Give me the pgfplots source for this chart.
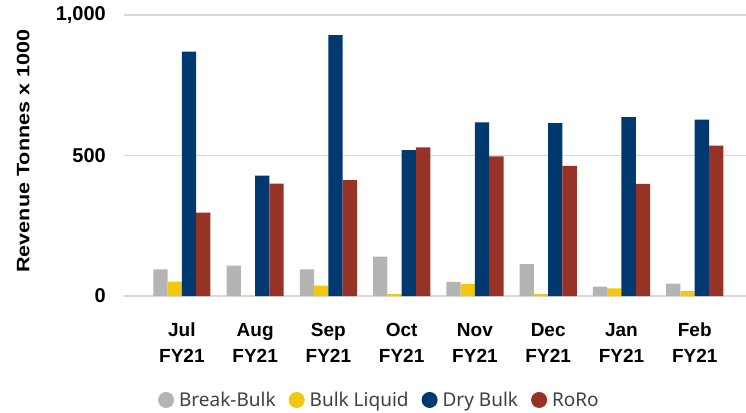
\documentclass[border=0pt]{standalone}
\usepackage{fontspec}
\setmainfont{Liberation Sans}
\newfontfamily\legfont{Noto Sans}
\usepackage{pgfplots}
\pgfplotsset{compat=1.18}
\definecolor{cGray}{RGB}{180,180,180}
\definecolor{cYellow}{RGB}{242,200,15}
\definecolor{cBlue}{RGB}{0,56,112}
\definecolor{cRed}{RGB}{150,50,38}
\definecolor{cGrid}{RGB}{217,217,217}
\definecolor{cLeg}{RGB}{64,64,64}
\begin{document}
\begin{tikzpicture}[x=1pt,y=1pt]
\useasboundingbox (0,0) rectangle (746,412);
\begin{axis}[
  at={(124pt,116pt)}, anchor=south west,
  scale only axis, width=622pt, height=281pt,
  ybar=0pt, bar width=14.3pt,
  xmin=-0.79, xmax=7.70, ymin=0, ymax=1000,
  axis line style={draw=none},
  major tick length=0pt,
  ymajorgrids, grid style={draw=cGrid, line width=1.3pt},
  xtick={0,...,7},
  xticklabels={{Jul\\FY21},{Aug\\FY21},{Sep\\FY21},{Oct\\FY21},{Nov\\FY21},{Dec\\FY21},{Jan\\FY21},{Feb\\FY21}},
  xticklabel style={align=center, font=\bfseries\fontsize{19}{26}\selectfont, inner sep=0pt, anchor=north, yshift=-27pt},
  ytick={0,500,1000},
  yticklabel style={font=\bfseries\fontsize{20}{22}\selectfont, inner sep=0pt, anchor=east, xshift=-18pt},
  /pgf/number format/.cd, assume math mode=true, 1000 sep={,},
  /pgfplots/.cd,
  ylabel={\scalebox{1.2}[1]{Revenue Tonnes x 1000}},
  ylabel style={at={(rel axis cs:-0.162,0.516)}, anchor=center, font=\bfseries\fontsize{18}{20}\selectfont},
  legend columns=4,
  legend image code/.code={\fill[#1] (8pt,0pt) circle (8pt);},
  legend style={draw=none, fill=none, at={(0.409,-0.370)}, anchor=center,
    font=\legfont\fontsize{19}{21}\selectfont, text=cLeg,
    nodes={inner xsep=0pt},
    /tikz/every odd column/.append style={column sep=5pt},
    /tikz/every even column/.append style={column sep=13pt}},
]
\addplot[fill=cGray, draw=none] coordinates {(0,95) (1,108) (2,95) (3,140) (4,50) (5,113) (6,33) (7,44)};
\addplot[fill=cYellow, draw=none] coordinates {(0,51) (1,0) (2,37) (3,7) (4,43) (5,7) (6,27) (7,17)};
\addplot[fill=cBlue, draw=none] coordinates {(0,870) (1,428) (2,928) (3,519) (4,618) (5,615) (6,637) (7,628)};
\addplot[fill=cRed, draw=none] coordinates {(0,297) (1,400) (2,412) (3,529) (4,497) (5,463) (6,399) (7,535)};
\legend{Break-Bulk, Bulk Liquid, Dry Bulk, RoRo}
\end{axis}
\end{tikzpicture}
\end{document}
